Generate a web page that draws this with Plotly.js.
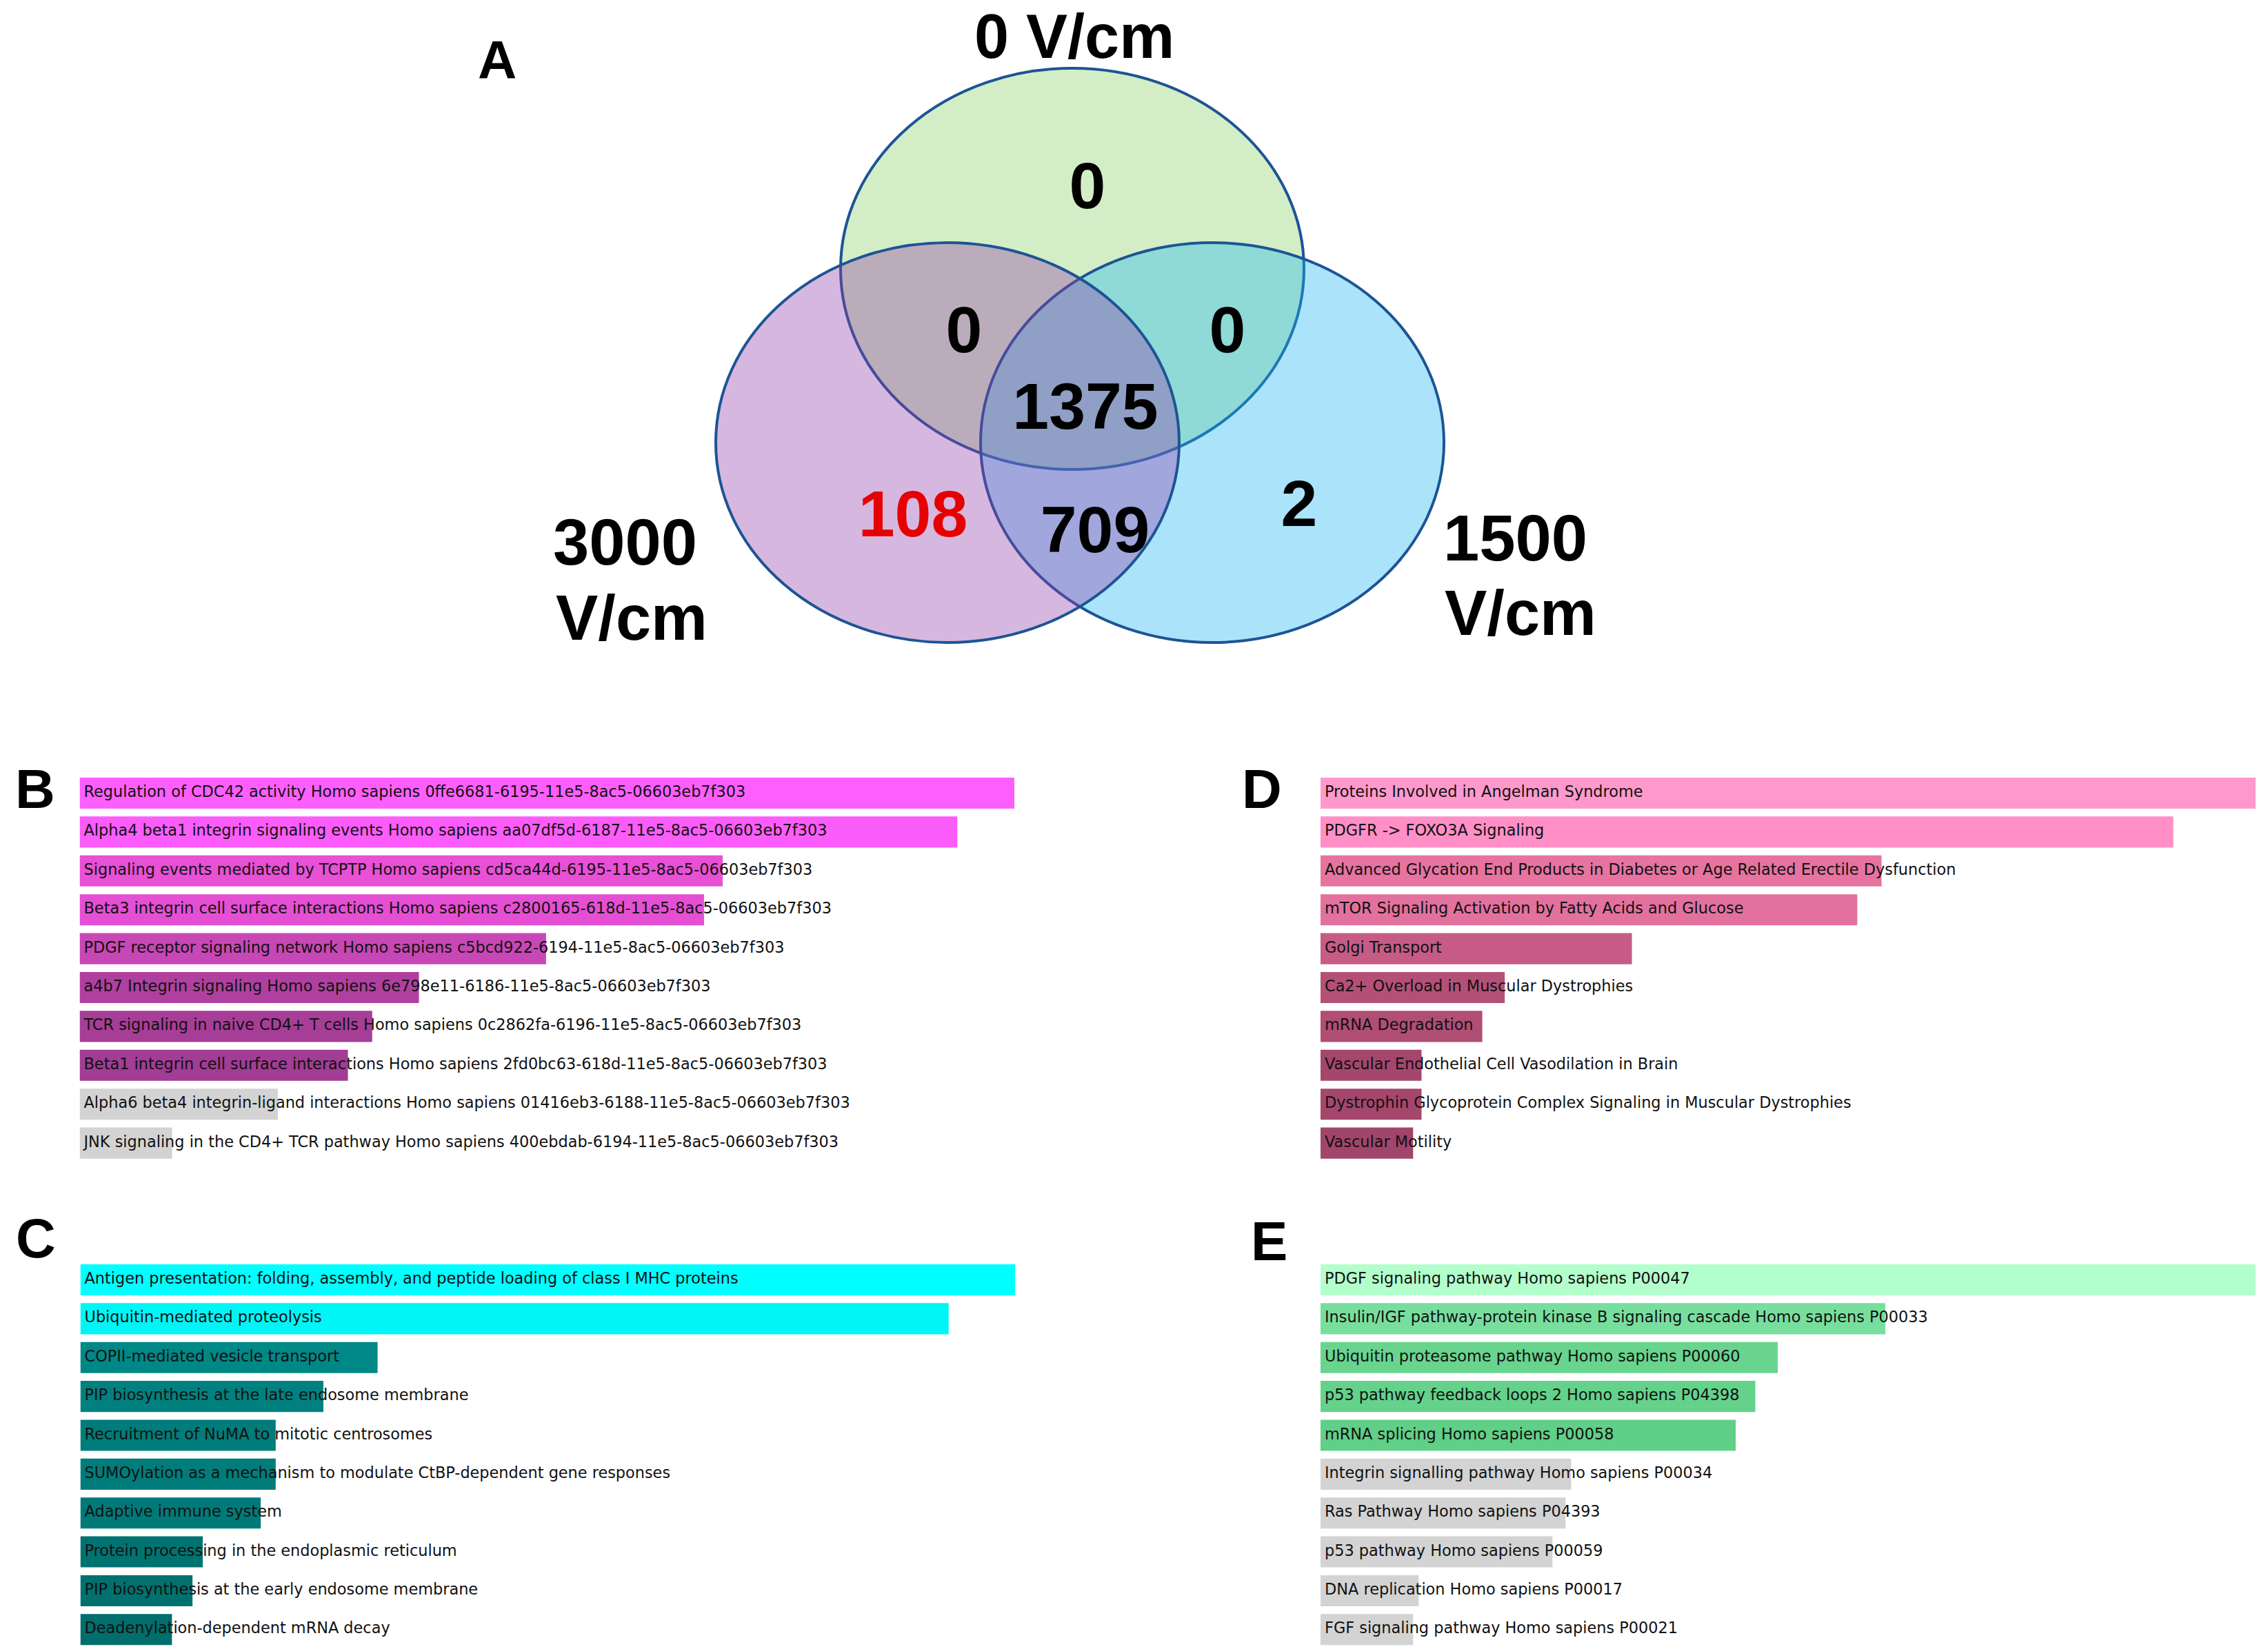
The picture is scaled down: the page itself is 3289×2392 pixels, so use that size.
<!DOCTYPE html>
<html>
<head>
<meta charset="utf-8">
<script src="https://cdn.plot.ly/plotly-3.0.1.min.js"></script>
<style>html,body{margin:0;padding:0;background:#fff;}#chart{width:3289px;height:2392px;}</style>
</head>
<body>
<div id="chart"></div>
<script>
// ---------- DATA ----------
// Venn diagram (panel A)
const vennSetNames = ['0 V/cm', '3000 V/cm', '1500 V/cm'];
const vennRegionNames = ['0 V/cm only', '0 & 3000 V/cm', '0 & 1500 V/cm', 'all three', '3000 V/cm only', '3000 & 1500 V/cm', '1500 V/cm only'];
const vennRegionCounts = [0, 0, 0, 1375, 108, 709, 2];

// Panel B
const bLabels = [
  'Regulation of CDC42 activity Homo sapiens 0ffe6681-6195-11e5-8ac5-06603eb7f303',
  'Alpha4 beta1 integrin signaling events Homo sapiens aa07df5d-6187-11e5-8ac5-06603eb7f303',
  'Signaling events mediated by TCPTP Homo sapiens cd5ca44d-6195-11e5-8ac5-06603eb7f303',
  'Beta3 integrin cell surface interactions Homo sapiens c2800165-618d-11e5-8ac5-06603eb7f303',
  'PDGF receptor signaling network Homo sapiens c5bcd922-6194-11e5-8ac5-06603eb7f303',
  'a4b7 Integrin signaling Homo sapiens 6e798e11-6186-11e5-8ac5-06603eb7f303',
  'TCR signaling in naive CD4+ T cells Homo sapiens 0c2862fa-6196-11e5-8ac5-06603eb7f303',
  'Beta1 integrin cell surface interactions Homo sapiens 2fd0bc63-618d-11e5-8ac5-06603eb7f303',
  'Alpha6 beta4 integrin-ligand interactions Homo sapiens 01416eb3-6188-11e5-8ac5-06603eb7f303',
  'JNK signaling in the CD4+ TCR pathway Homo sapiens 400ebdab-6194-11e5-8ac5-06603eb7f303'
];
const bScores = [100, 93.9, 68.8, 66.8, 49.9, 36.3, 31.3, 28.7, 21.2, 9.9];

// Panel C
const cLabels = [
  'Antigen presentation: folding, assembly, and peptide loading of class I MHC proteins',
  'Ubiquitin-mediated proteolysis',
  'COPII-mediated vesicle transport',
  'PIP biosynthesis at the late endosome membrane',
  'Recruitment of NuMA to mitotic centrosomes',
  'SUMOylation as a mechanism to modulate CtBP-dependent gene responses',
  'Adaptive immune system',
  'Protein processing in the endoplasmic reticulum',
  'PIP biosynthesis at the early endosome membrane',
  'Deadenylation-dependent mRNA decay'
];
const cScores = [100, 92.9, 31.8, 26.0, 20.9, 20.9, 19.3, 13.1, 12.0, 9.8];

// Panel D
const dLabels = [
  'Proteins Involved in Angelman Syndrome',
  'PDGFR -> FOXO3A Signaling',
  'Advanced Glycation End Products in Diabetes or Age Related Erectile Dysfunction',
  'mTOR Signaling Activation by Fatty Acids and Glucose',
  'Golgi Transport',
  'Ca2+ Overload in Muscular Dystrophies',
  'mRNA Degradation',
  'Vascular Endothelial Cell Vasodilation in Brain',
  'Dystrophin Glycoprotein Complex Signaling in Muscular Dystrophies',
  'Vascular Motility'
];
const dScores = [100, 91.2, 60.0, 57.4, 33.3, 19.7, 17.3, 10.8, 10.8, 9.9];

// Panel E
const eLabels = [
  'PDGF signaling pathway Homo sapiens P00047',
  'Insulin/IGF pathway-protein kinase B signaling cascade Homo sapiens P00033',
  'Ubiquitin proteasome pathway Homo sapiens P00060',
  'p53 pathway feedback loops 2 Homo sapiens P04398',
  'mRNA splicing Homo sapiens P00058',
  'Integrin signalling pathway Homo sapiens P00034',
  'Ras Pathway Homo sapiens P04393',
  'p53 pathway Homo sapiens P00059',
  'DNA replication Homo sapiens P00017',
  'FGF signaling pathway Homo sapiens P00021'
];
const eScores = [100, 60.4, 48.9, 46.5, 44.4, 26.8, 26.2, 24.8, 10.5, 9.9];

// ---------- STYLE / LAYOUT ----------
const W = 3289, H = 2392;
const bColors = ['#ff5eff','#fc5cfa','#e850d6','#e54fd3','#c847b6','#b040a0','#a63e98','#a23c94','#d3d3d3','#d3d3d3'];
const cColors = ['#00ffff','#00f6f6','#008886','#00817f','#007c7a','#007c7a','#007a78','#007371','#00716f','#006e6c'];
const dColors = ['#ff99cc','#ff8fc6','#e673a0','#e3719e','#c65c86','#b45076','#b04e74','#a5466c','#a5466c','#a2456b'];
const eColors = ['#b3ffcc','#78de9e','#68d48e','#64d28b','#60cf87','#d3d3d3','#d3d3d3','#d3d3d3','#d3d3d3','#d3d3d3'];

const px2x = p => p / W;
const px2y = p => 1 - p / H;

// panel geometry in pixels
const panels = [
  {labels: bLabels, scores: bScores, colors: bColors, left: 115.5, right: 1471, top: 1122.3, bottom: 1686.3, ax: ''},
  {labels: cLabels, scores: cScores, colors: cColors, left: 116.5, right: 1472, top: 1828.3, bottom: 2392, ax: '2'},
  {labels: dLabels, scores: dScores, colors: dColors, left: 1915, right: 3271, top: 1122.3, bottom: 1686.3, ax: '3'},
  {labels: eLabels, scores: eScores, colors: eColors, left: 1915, right: 3271, top: 1828.3, bottom: 2392, ax: '4'}
];

const traces = [];
const layout = {
  width: W, height: H,
  margin: {l: 0, r: 0, t: 0, b: 0, pad: 0},
  paper_bgcolor: '#ffffff', plot_bgcolor: 'rgba(0,0,0,0)',
  showlegend: false, bargap: 0.2, hovermode: false,
  annotations: [], shapes: []
};

const labelFontSize = 22.4;
panels.forEach(p => {
  const xa = 'x' + p.ax, ya = 'y' + p.ax;
  const idx = p.scores.map((_, i) => i);
  traces.push({
    type: 'bar', orientation: 'h', x: p.scores, y: idx,
    xaxis: xa, yaxis: ya,
    marker: {color: p.colors, line: {width: 0}},
    hoverinfo: 'skip'
  });
  const offset = 6 * 100 / (p.right - p.left);
  traces.push({
    type: 'scatter', mode: 'text', x: idx.map(() => offset), y: idx,
    xaxis: xa, yaxis: ya, text: p.labels, textposition: 'middle right',
    textfont: {family: 'DejaVu Sans, Verdana, sans-serif', size: labelFontSize, color: '#111111'},
    cliponaxis: false, hoverinfo: 'skip'
  });
  const xk = 'xaxis' + p.ax, yk = 'yaxis' + p.ax;
  layout[xk] = {domain: [px2x(p.left), px2x(p.right)], range: [0, 100], visible: false, fixedrange: true, anchor: ya};
  layout[yk] = {domain: [Math.max(0, px2y(p.bottom)), px2y(p.top)], range: [9.5, -0.5], visible: false, fixedrange: true, anchor: xa};
});

// Venn canvas axis (pixel coordinates)
layout.xaxis5 = {domain: [0, 1], range: [0, W], visible: false, fixedrange: true, anchor: 'y5'};
layout.yaxis5 = {domain: [0, 1], range: [H, 0], visible: false, fixedrange: true, anchor: 'x5'};

const vennEllipses = [
  {cx: 1555, cy: 390, rx: 336, ry: 291, fill: 'rgba(136,209,104,0.37)'},
  {cx: 1758, cy: 642, rx: 336, ry: 290, fill: 'rgba(28,182,241,0.37)'},
  {cx: 1374, cy: 642, rx: 336, ry: 290, fill: 'rgba(144,60,169,0.37)'}
];
vennEllipses.forEach(e => {
  layout.shapes.push({
    type: 'circle', xref: 'x5', yref: 'y5', layer: 'below',
    x0: e.cx - e.rx, x1: e.cx + e.rx, y0: e.cy - e.ry, y1: e.cy + e.ry,
    fillcolor: e.fill, line: {color: '#1d5494', width: 4}
  });
});

const vennCountPos = [[1577, 268], [1398, 477], [1780, 477], [1574, 588], [1324, 744], [1588, 767], [1884, 729]];
const vennCountColors = vennRegionCounts.map((_, i) => vennRegionNames[i] === '3000 V/cm only' ? '#e60000' : '#000000');
const countSize = 95;
traces.push({
  type: 'scatter', mode: 'text', xaxis: 'x5', yaxis: 'y5',
  x: vennCountPos.map(p => p[0]), y: vennCountPos.map(p => p[1] + 0.108 * countSize),
  text: vennRegionCounts.map(String), textposition: 'middle center',
  textfont: {family: 'Liberation Sans, Arial, sans-serif', size: countSize, color: vennCountColors, weight: 'bold'},
  cliponaxis: false, hoverinfo: 'skip'
});

function ann(text, x, y, size, xanchor) {
  layout.annotations.push({
    text: text, xref: 'paper', yref: 'paper', x: px2x(x), y: px2y(y),
    xanchor: xanchor || 'center', yanchor: 'middle', showarrow: false,
    font: {family: 'Liberation Sans, Arial, sans-serif', size: size, color: '#000000', weight: 'bold'}
  });
}
// set labels
ann(vennSetNames[0], 1558, 53, 90);
ann(vennSetNames[1].split(' ')[0], 800, 787, 94, 'left');
ann(vennSetNames[1].split(' ')[1], 804, 896, 92, 'left');
ann(vennSetNames[2].split(' ')[0], 2091, 780, 94, 'left');
ann(vennSetNames[2].split(' ')[1], 2093, 889, 92, 'left');
// panel letters
ann('A', 721, 87, 78);
ann('B', 51, 1144, 80);
ann('C', 52, 1796, 80);
ann('D', 1830, 1144, 80);
ann('E', 1840, 1800, 80);

Plotly.newPlot('chart', traces, layout, {displayModeBar: false, staticPlot: true});
</script>
</body>
</html>
